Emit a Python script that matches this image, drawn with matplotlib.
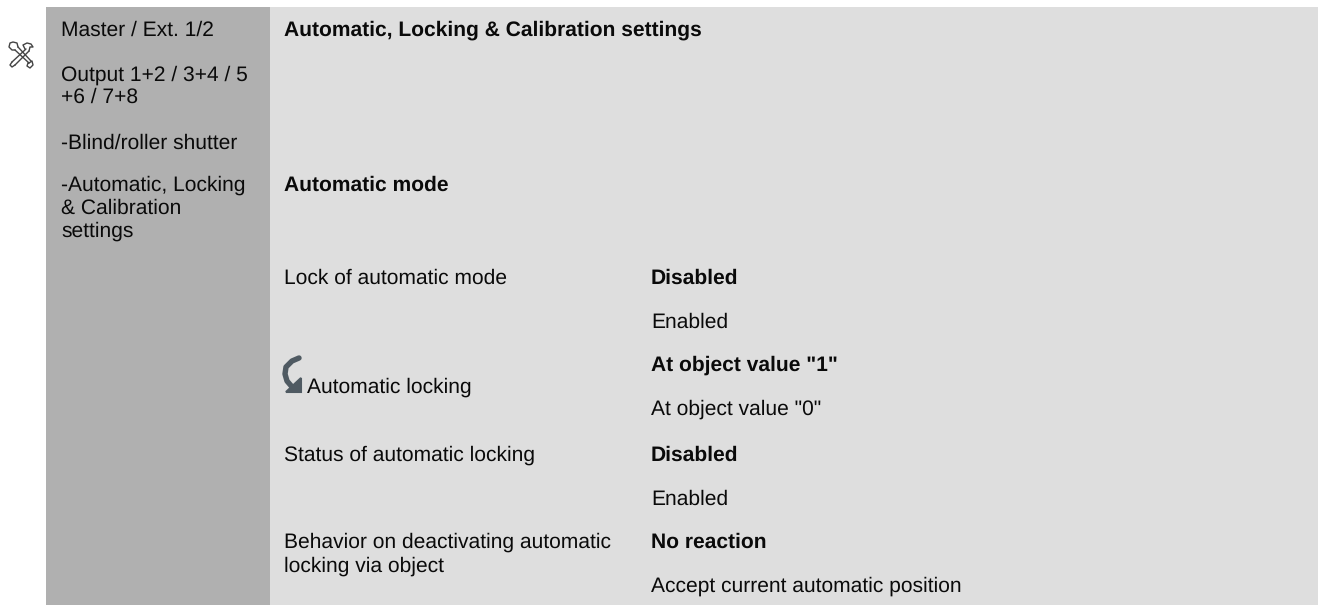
import matplotlib
matplotlib.use("Agg")
import matplotlib.pyplot as plt
from matplotlib.patches import Rectangle, Polygon

plt.rcParams['font.family'] = ['Liberation Sans', 'DejaVu Sans']
plt.rcParams['text.hinting'] = 'none'

FONT = 15.1

# Menu column on the left
menu_lines = ["Master / Ext. 1/2", "Output 1+2 / 3+4 / 5", "+6 / 7+8", "-Blind/roller shutter",
              "-Automatic, Locking", "& Calibration", "settings"]
menu_y = [36, 81, 103, 149, 191, 214, 237]

# Section headings
heading_lines = ["Automatic, Locking & Calibration settings", "Automatic mode"]
heading_y = [36, 191]

# Parameter names
param_lines = ["Lock of automatic mode", "Automatic locking", "Status of automatic locking",
               "Behavior on deactivating automatic", "locking via object"]
param_x = [284, 307, 284, 284, 284]
param_y = [284, 393, 461, 548, 572]

# Options, bold ones are the defaults
option_lines = ["Disabled", "Enabled", 'At object value "1"', 'At object value "0"',
                "Disabled", "Enabled", "No reaction", "Accept current automatic position"]
option_bold = [True, False, True, False, True, False, True, False]
option_y = [284, 328, 371, 415, 461, 505, 548, 592]

fig = plt.figure(figsize=(13.18, 6.05), dpi=100)
ax = fig.add_axes([0, 0, 1, 1])
ax.set_xlim(0, 1318)
ax.set_ylim(605, 0)
ax.axis('off')

ax.add_patch(Rectangle((46, 7), 224, 598, color="#b0b0b0", lw=0))
ax.add_patch(Rectangle((270, 7), 1048, 598, color="#dedede", lw=0))

for line, y in zip(menu_lines, menu_y):
    ax.text(61, y, line, fontsize=FONT, color="#0a0a0a", va='baseline')
for line, y in zip(heading_lines, heading_y):
    ax.text(284, y, line, fontsize=FONT, color="#0a0a0a", fontweight='bold', va='baseline')
for line, x, y in zip(param_lines, param_x, param_y):
    ax.text(x, y, line, fontsize=FONT, color="#0a0a0a", va='baseline')
for line, bold, y in zip(option_lines, option_bold, option_y):
    ax.text(651, y, line, fontsize=FONT, color="#0a0a0a", va='baseline',
            fontweight='bold' if bold else 'normal')

# Tools icon (crossed wrench and hammer outline)
for xs, ys in [([15, 29], [50, 63]), ([18, 31], [47, 61]),
               ([26, 12], [49, 62]), ([29, 15], [51, 65])]:
    ax.plot(xs, ys, color="#444444", lw=1.0, solid_capstyle='round')
ax.plot([18, 17, 13, 10, 9, 12, 15], [47, 43, 42, 43, 47, 50, 50], color="#444444", lw=1.0)
ax.plot([25, 23, 27, 31, 33, 30, 29], [49, 45, 43, 44, 47, 47, 51], color="#444444", lw=1.0)
ax.plot([29, 32, 33, 30, 27, 28], [63, 61, 65, 68, 66, 63], color="#444444", lw=1.0)
ax.plot([12, 10, 12, 15], [62, 65, 67, 65], color="#444444", lw=1.0)

# Curved arrow next to Automatic locking
ax.plot([299, 292, 286, 285, 287, 293], [358, 361, 367, 374, 381, 388], color="#4f5a62", lw=3.9,
        solid_capstyle='round')
ax.add_patch(Polygon([[286, 392], [301, 392], [301, 378]], closed=True, color="#4f5a62", lw=1.5))

fig.savefig("out.png", dpi=100)
